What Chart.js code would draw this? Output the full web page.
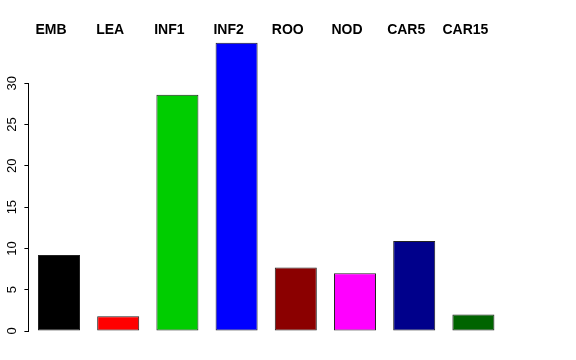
<!DOCTYPE html>
<html>
<head>
<meta charset="utf-8">
<script src="https://cdn.jsdelivr.net/npm/chart.js@4"></script>
<style>
    html, body { margin: 0; padding: 0; background: #fff; }
</style>
</head>
<body>
<canvas id="barChart" width="576" height="360"></canvas>
<script>
const categories = ["EMB", "LEA", "INF1", "INF2", "ROO", "NOD", "CAR5", "CAR15"];
const values = [9.2, 1.8, 28.6, 34.9, 7.7, 7.0, 10.9, 2.0];
const barColors = ["#000000", "#FF0000", "#00CD00", "#0000FF", "#8B0000", "#FF00FF", "#00008B", "#006400"];
const yTicks = [0, 5, 10, 15, 20, 25, 30];

// R style axis: the line only runs from first to last tick
const axisLine = {
    id: "axisLine",
    afterDraw(chart) {
        const y = chart.scales.y;
        const ctx = chart.ctx;
        const x = Math.round(y.right) - 0.5;
        ctx.save();
        ctx.strokeStyle = "#000";
        ctx.lineWidth = 1;
        ctx.beginPath();
        ctx.moveTo(x, y.getPixelForValue(yTicks[0]));
        ctx.lineTo(x, y.getPixelForValue(yTicks[yTicks.length - 1]));
        ctx.stroke();
        ctx.restore();
    }
};

const ctx = document.getElementById("barChart").getContext("2d");

const chart = new Chart(ctx, {
    type: "bar",
    data: {
        labels: categories,
        datasets: [{
            data: values,
            backgroundColor: barColors,
            borderColor: "#222",
            borderWidth: 1,
            borderSkipped: false,
            barPercentage: 0.71,
            categoryPercentage: 1
        }]
    },
    options: {
        responsive: false,
        animation: false,
        layout: {
            padding: { left: 0, right: 73, top: 0, bottom: 29 }
        },
        plugins: {
            legend: { display: false },
            tooltip: { enabled: false }
        },
        scales: {
            x: {
                position: "top",
                grid: { display: false, drawTicks: false },
                border: { display: false },
                ticks: {
                    color: "#000",
                    font: { family: "Liberation Sans", size: 14, weight: "bold" },
                    labelOffset: -8,
                    padding: 3,
                    maxRotation: 0
                },
                afterFit: scale => { scale.height = 42; }
            },
            y: {
                min: 0,
                max: 35,
                grid: { drawOnChartArea: false, tickLength: 5, color: "#000" },
                border: { display: false },
                afterBuildTicks: scale => {
                    scale.ticks = yTicks.map(v => ({ value: v }));
                },
                ticks: {
                    color: "#000",
                    font: { family: "Liberation Sans", size: 13 },
                    minRotation: 90,
                    maxRotation: 90,
                    crossAlign: "center",
                    padding: 5
                },
                afterFit: scale => { scale.width = 29.4; }
            }
        }
    },
    plugins: [axisLine]
});
</script>
</body>
</html>
